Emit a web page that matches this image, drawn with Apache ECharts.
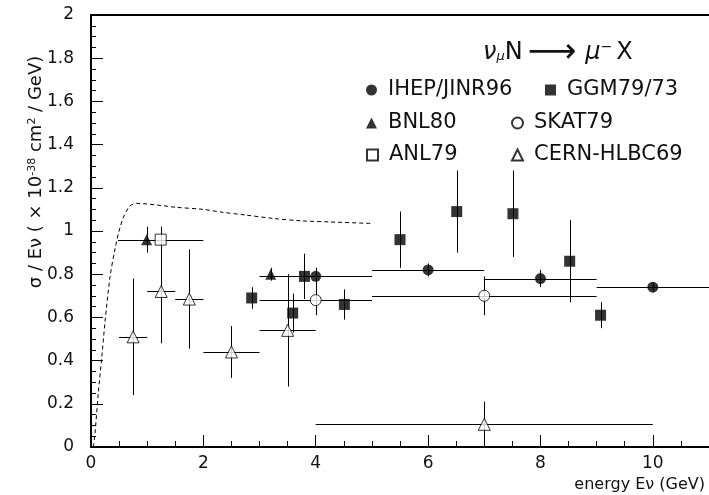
<!DOCTYPE html>
<html>
<head>
<meta charset="utf-8">
<script src="https://cdn.jsdelivr.net/npm/echarts@6/dist/echarts.min.js"></script>
<style>
  html, body { margin: 0; padding: 0; background: #fff; }
  #chart { width: 709px; height: 495px; }
</style>
</head>
<body>
<div id="chart"></div>
<script>
// Charged-current cross section sigma/E for nu_mu N -> mu- X, several experiments.
// Each experiment: energy, half-width of energy bin, sigma/E, its error.

const ihepX = [4, 6, 8, 10];
const ihepXErr = [1, 1, 1, 1];
const ihepY = [0.79, 0.82, 0.78, 0.74];
const ihepYErr = [0.04, 0.03, 0.04, 0.02];

const ggmX = [2.86, 3.59, 3.8, 4.51, 5.5, 6.51, 7.51, 8.52, 9.07];
const ggmXErr = [0, 0, 0, 0, 0, 0, 0, 0, 0];
const ggmY = [0.69, 0.62, 0.79, 0.66, 0.96, 1.09, 1.08, 0.86, 0.61];
const ggmYErr = [0.05, 0.09, 0.105, 0.07, 0.13, 0.19, 0.2, 0.19, 0.06];

const bnlX = [0.99, 3.2];
const bnlXErr = [0, 0];
const bnlY = [0.96, 0.8];
const bnlYErr = [0.06, 0.03];

const skatX = [4, 7];
const skatXErr = [1, 2];
const skatY = [0.68, 0.70];
const skatYErr = [0.07, 0.09];

const anlX = [1.24];
const anlXErr = [0.76];
const anlY = [0.96];
const anlYErr = [0.06];

const cernX = [0.75, 1.25, 1.75, 2.5, 3.5, 7];
const cernXErr = [0.25, 0.25, 0.25, 0.5, 0.5, 3];
const cernY = [0.51, 0.72, 0.685, 0.44, 0.54, 0.105];
const cernYErr = [0.27, 0.24, 0.23, 0.12, 0.26, 0.105];

// Prediction curve (dashed)
const curveE = [0.04, 0.07, 0.13, 0.19, 0.25, 0.34, 0.43, 0.5, 0.58, 0.69, 0.81, 1.0, 1.25, 1.5, 2.0, 2.3, 2.75, 3.25, 3.75, 4.25, 5.0];
const curveSigma = [0.0, 0.06, 0.25, 0.41, 0.58, 0.79, 0.92, 1.0, 1.065, 1.115, 1.128, 1.125, 1.118, 1.11, 1.1, 1.088, 1.074, 1.058, 1.047, 1.042, 1.035];

const FONT = 'DejaVu Sans';
const INK = '#111';

function rows(x, xe, y, ye) {
  return x.map((v, i) => [v, y[i], xe[i], ye[i]]);
}

// Error bars: horizontal (energy bin) and vertical (sigma error), no caps
function errorBars(data) {
  return {
    type: 'custom',
    data: data,
    z: 1,
    silent: true,
    encode: { x: 0, y: 1 },
    renderItem: function (params, api) {
      const x = api.value(0), y = api.value(1), xe = api.value(2), ye = api.value(3);
      const children = [];
      const style = { stroke: '#000', lineWidth: 1 };
      if (xe > 0) {
        const a = api.coord([x - xe, y]), b = api.coord([x + xe, y]);
        const yy = Math.round(a[1]) + 0.5;
        children.push({ type: 'line', shape: { x1: a[0], y1: yy, x2: b[0], y2: yy }, style: style });
      }
      if (ye > 0) {
        const a = api.coord([x, y - ye]), b = api.coord([x, y + ye]);
        const xx = Math.round(a[0]) + 0.5;
        children.push({ type: 'line', shape: { x1: xx, y1: a[1], x2: xx, y2: b[1] }, style: style });
      }
      return { type: 'group', children: children };
    }
  };
}

function markers(name, data, symbol, size, hollow) {
  return {
    name: name,
    type: 'scatter',
    data: data.map(d => [d[0], d[1]]),
    symbol: symbol,
    symbolSize: size,
    z: 3,
    itemStyle: hollow
      ? { color: '#fff', borderColor: '#000', borderWidth: 1 }
      : { color: '#000', borderColor: '#000', borderWidth: 0 }
  };
}

const sets = [
  { name: 'IHEP/JINR96', data: rows(ihepX, ihepXErr, ihepY, ihepYErr), symbol: 'circle', size: 11, hollow: false },
  { name: 'GGM79/73', data: rows(ggmX, ggmXErr, ggmY, ggmYErr), symbol: 'rect', size: 11, hollow: false },
  { name: 'BNL80', data: rows(bnlX, bnlXErr, bnlY, bnlYErr), symbol: 'triangle', size: 11, hollow: false },
  { name: 'SKAT79', data: rows(skatX, skatXErr, skatY, skatYErr), symbol: 'circle', size: 11, hollow: true },
  { name: 'ANL79', data: rows(anlX, anlXErr, anlY, anlYErr), symbol: 'rect', size: 11, hollow: true },
  { name: 'CERN-HLBC69', data: rows(cernX, cernXErr, cernY, cernYErr), symbol: 'triangle', size: 12, hollow: true }
];

// Legend entries laid out in three rows of two (icon left edge, row top)
const legendSpots = [
  ['IHEP/JINR96', 366, 79], ['GGM79/73', 545, 79],
  ['BNL80', 366, 112], ['SKAT79', 511, 112],
  ['ANL79', 366, 144], ['CERN-HLBC69', 511, 144]
];

const series = [{
  type: 'line',
  data: curveE.map((e, i) => [e, curveSigma[i]]),
  showSymbol: false,
  smooth: 0.3,
  silent: true,
  z: 0,
  lineStyle: { color: '#000', width: 1, type: [4, 3] }
}];
sets.forEach(s => series.push(errorBars(s.data)));
sets.forEach(s => series.push(markers(s.name, s.data, s.symbol, s.size, s.hollow)));

const chart = echarts.init(document.getElementById('chart'), null, { renderer: 'canvas' });
chart.setOption({
  animation: false,
  backgroundColor: '#fff',
  title: {
    text: '{i|ν}{sub|μ}{t|N}{a|⟶}{i|μ}{sup|−}{x|X}',
    left: 483,
    top: 36,
    padding: 0,
    textStyle: {
      fontWeight: 'normal',
      rich: {
        t: { fontFamily: FONT, fontSize: 24, fontWeight: 'normal', color: INK },
        x: { fontFamily: FONT, fontSize: 24, fontWeight: 'normal', color: INK, padding: [0, 0, 0, 2] },
        i: { fontFamily: FONT, fontSize: 24, fontWeight: 'normal', fontStyle: 'italic', color: INK },
        a: { fontFamily: FONT, fontSize: 34, fontWeight: 'normal', color: INK, padding: [0, 9, 0, 5] },
        sub: { fontFamily: FONT, fontSize: 13, fontWeight: 'normal', fontStyle: 'italic', color: INK, padding: [0, 0, -8, 0] },
        sup: { fontFamily: FONT, fontSize: 14, fontWeight: 'normal', color: INK, padding: [0, 2, 12, 0] }
      }
    }
  },
  legend: legendSpots.map(([name, left, top]) => ({
    data: [name],
    left: left,
    top: top,
    padding: 0,
    itemWidth: 11,
    itemHeight: 11,
    selectedMode: false,
    textStyle: { fontFamily: FONT, fontSize: 21, color: INK, lineHeight: 22, padding: [0, 0, 0, 6] }
  })),
  grid: { left: 91, right: 0, top: 15, bottom: 48, containLabel: false, outerBoundsMode: 'none' },
  xAxis: [
    {
      type: 'value', min: 0, max: 11, interval: 0.5,
      position: 'bottom',
      axisLine: { show: true, onZero: false, lineStyle: { color: '#000', width: 2 } },
      axisTick: { show: true, inside: true, length: 6, lineStyle: { color: '#000', width: 1 } },
      axisLabel: {
        formatter: v => (v % 2 === 0 && v <= 10) ? String(v) : '',
        margin: 8, fontFamily: FONT, fontSize: 17, color: INK
      },
      splitLine: { show: false },
      name: 'energy Eν (GeV)',
      nameLocation: 'end',
      nameGap: -4,
      nameMoveOverlap: false,
      nameTextStyle: { fontFamily: FONT, fontSize: 16, color: INK, align: 'right', verticalAlign: 'top', padding: [30, 0, 0, 0] }
    },
    {
      type: 'value', min: 0, max: 11, interval: 2,
      position: 'bottom',
      axisLine: { show: false, onZero: false },
      axisTick: { show: true, inside: true, length: 12, lineStyle: { color: '#000', width: 1 } },
      axisLabel: { show: false },
      splitLine: { show: false }
    },
    {
      type: 'value', min: 0, max: 11,
      position: 'top',
      axisLine: { show: true, onZero: false, lineStyle: { color: '#000', width: 2 } },
      axisTick: { show: false },
      axisLabel: { show: false },
      splitLine: { show: false }
    }
  ],
  yAxis: {
    type: 'value', min: 0, max: 2, interval: 0.2,
    axisLine: { show: true, onZero: false, lineStyle: { color: '#000', width: 2 } },
    axisTick: { show: true, inside: true, length: 12, lineStyle: { color: '#000', width: 1 } },
    minorTick: { show: true, splitNumber: 4, length: 5, lineStyle: { color: '#000', width: 1 } },
    axisLabel: { margin: 17, fontFamily: FONT, fontSize: 17, color: INK },
    splitLine: { show: false },
    minorSplitLine: { show: false },
    name: '{t|σ / Eν ( × 10}{s|-38}{t| cm}{s|2}{t| / GeV)}',
    nameLocation: 'middle',
    nameGap: 45,
    nameRotate: 90,
    nameMoveOverlap: false,
    nameTextStyle: {
      padding: [0, 0, 0, 118],
      rich: {
        t: { fontFamily: FONT, fontSize: 18, color: INK },
        s: { fontFamily: FONT, fontSize: 11, color: INK, padding: [0, 0, 8, 0] }
      }
    }
  },
  series: series
});
</script>
</body>
</html>
